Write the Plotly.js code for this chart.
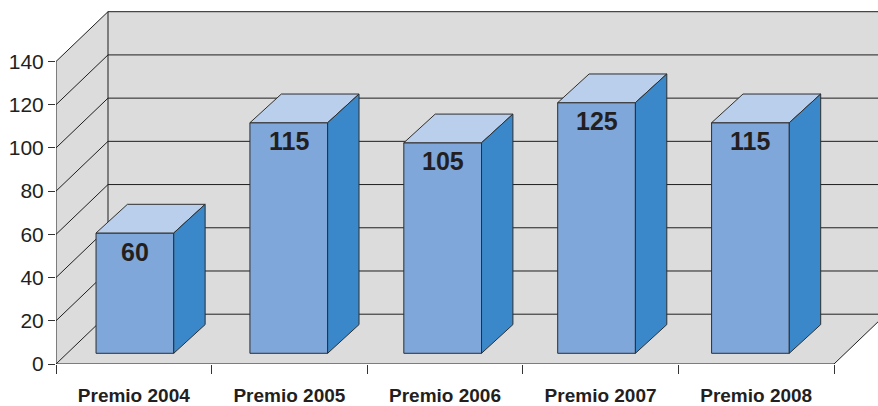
<!DOCTYPE html>
<html>
<head>
<meta charset="utf-8">
<script src="https://cdn.plot.ly/plotly-3.0.1.min.js"></script>
<style>html,body{margin:0;padding:0;background:#fff;}#chart{width:878px;height:406px;}</style>
</head>
<body>
<div id="chart"></div>
<script>
// ---- data ----
const categories = ['Premio 2004', 'Premio 2005', 'Premio 2006', 'Premio 2007', 'Premio 2008'];
const values = [60, 115, 105, 125, 115];
const yTicks = [0, 20, 40, 60, 80, 100, 120, 140];

// ---- geometry (axis units) ----
const PXX = 155.6, PXY = 2.1607;
const WALL_DX = 52 / PXX, WALL_DY = 49.8 / PXY;
const BAR_DX = 31.4 / PXX, BAR_DY = 28.7 / PXY;
const BAR_BASE = 10.7 / PXY, BAR_SCALE = 2.005 / PXY;
const BAR_W = 77.7 / PXX;
const XMAX = 822 / PXX, YMAX = 364 / PXY;
const N = categories.length;
const YTOP = yTicks[yTicks.length - 1];

const WALL = '#dcdcdc', GRID = '#1e1e1e', EDGE = '#2e2e2e';
const FRONT = '#7fa7da', TOP = '#bacfec', SIDE = '#3a88c9';

const traces = [];
function poly(xs, ys, fill, lc, lw) {
  traces.push({type: 'scatter', mode: 'lines', x: xs.concat([xs[0]]), y: ys.concat([ys[0]]),
    fill: 'toself', fillcolor: fill, line: {color: lc, width: lw}, hoverinfo: 'skip', showlegend: false});
}
function lines(xs, ys, lc, lw) {
  traces.push({type: 'scatter', mode: 'lines', x: xs, y: ys, line: {color: lc, width: lw},
    hoverinfo: 'skip', showlegend: false});
}

// back wall
poly([WALL_DX, N + WALL_DX + 1, N + WALL_DX + 1, WALL_DX], [WALL_DY, WALL_DY, YTOP + WALL_DY, YTOP + WALL_DY], WALL, 'rgba(0,0,0,0)', 0);
// side wall
poly([0, 0, WALL_DX, WALL_DX], [0, YTOP, YTOP + WALL_DY, WALL_DY], WALL, 'rgba(0,0,0,0)', 0);
// floor
poly([0, N, N + WALL_DX, WALL_DX], [0, 0, WALL_DY, WALL_DY], WALL, 'rgba(0,0,0,0)', 0);

// gridlines (side wall diagonals + back wall horizontals)
const gx = [], gy = [];
yTicks.forEach(v => {
  gx.push(0, WALL_DX, N + WALL_DX + 1, null);
  gy.push(v, v + WALL_DY, v + WALL_DY, null);
});
// wall edges
gx.push(0, 0, null, WALL_DX, WALL_DX, null, 0, N, N + WALL_DX, null);
gy.push(0, YTOP, null, WALL_DY, YTOP + WALL_DY, null, 0, 0, WALL_DY, null);
lines(gx, gy, GRID, 1);

// bars
const annotations = [];
values.forEach((v, i) => {
  const c = 0.507 + 0.989 * i;
  const x0 = c - BAR_W / 2, x1 = c + BAR_W / 2;
  const b = BAR_BASE, t = BAR_BASE + v * BAR_SCALE;
  poly([x0, x1, x1, x0], [b, b, t, t], FRONT, EDGE, 1);
  poly([x0, x1, x1 + BAR_DX, x0 + BAR_DX], [t, t, t + BAR_DY, t + BAR_DY], TOP, EDGE, 1);
  poly([x1, x1 + BAR_DX, x1 + BAR_DX, x1], [b, b + BAR_DY, t + BAR_DY, t], SIDE, EDGE, 1);
  annotations.push({x: c, y: t - 8.6, xref: 'x', yref: 'y', text: '<b>' + v + '</b>', showarrow: false,
    xanchor: 'center', yanchor: 'middle', font: {family: 'Liberation Sans, Arial, sans-serif', size: 25, color: '#231f20'}});
});

// category label carrier (xaxis2)
traces.push({type: 'scatter', mode: 'markers', x: [0], y: [0], xaxis: 'x2', yaxis: 'y',
  marker: {opacity: 0}, hoverinfo: 'skip', showlegend: false});

const boundaries = [];
for (let i = 0; i <= N; i++) boundaries.push(i);
const centers = categories.map((_, i) => i + 0.5);

const layout = {
  width: 878, height: 406,
  margin: {l: 56, r: 0, t: 0, b: 42, pad: 0},
  paper_bgcolor: '#ffffff', plot_bgcolor: 'rgba(0,0,0,0)',
  showlegend: false,
  font: {family: 'Liberation Sans, Arial, sans-serif', color: '#231f20'},
  xaxis: {range: [0, XMAX], automargin: false, showgrid: false, zeroline: false, showline: false,
    tickmode: 'array', tickvals: boundaries, ticktext: boundaries.map(() => ''),
    ticks: 'outside', ticklen: 9, tickwidth: 1, tickcolor: '#333', fixedrange: true},
  xaxis2: {range: [0, XMAX], overlaying: 'x', anchor: 'y', side: 'bottom', automargin: false,
    showgrid: false, zeroline: false, showline: false,
    tickmode: 'array', tickvals: centers, ticktext: categories.map(c => '<b>' + c + '</b>'),
    ticks: 'outside', ticklen: 14, tickcolor: 'rgba(0,0,0,0)',
    tickfont: {family: 'Liberation Sans, Arial, sans-serif', size: 19, color: '#231f20'}},
  yaxis: {range: [0, YMAX], automargin: false, showgrid: false, zeroline: false, showline: false,
    tickmode: 'array', tickvals: yTicks, ticks: 'outside', ticklen: 7, tickwidth: 1, tickcolor: '#333',
    tickfont: {family: 'Liberation Sans, Arial, sans-serif', size: 21, color: '#231f20'}, fixedrange: true},
  annotations: annotations
};

Plotly.newPlot('chart', traces, layout, {displayModeBar: false, staticPlot: true});
</script>
</body>
</html>
